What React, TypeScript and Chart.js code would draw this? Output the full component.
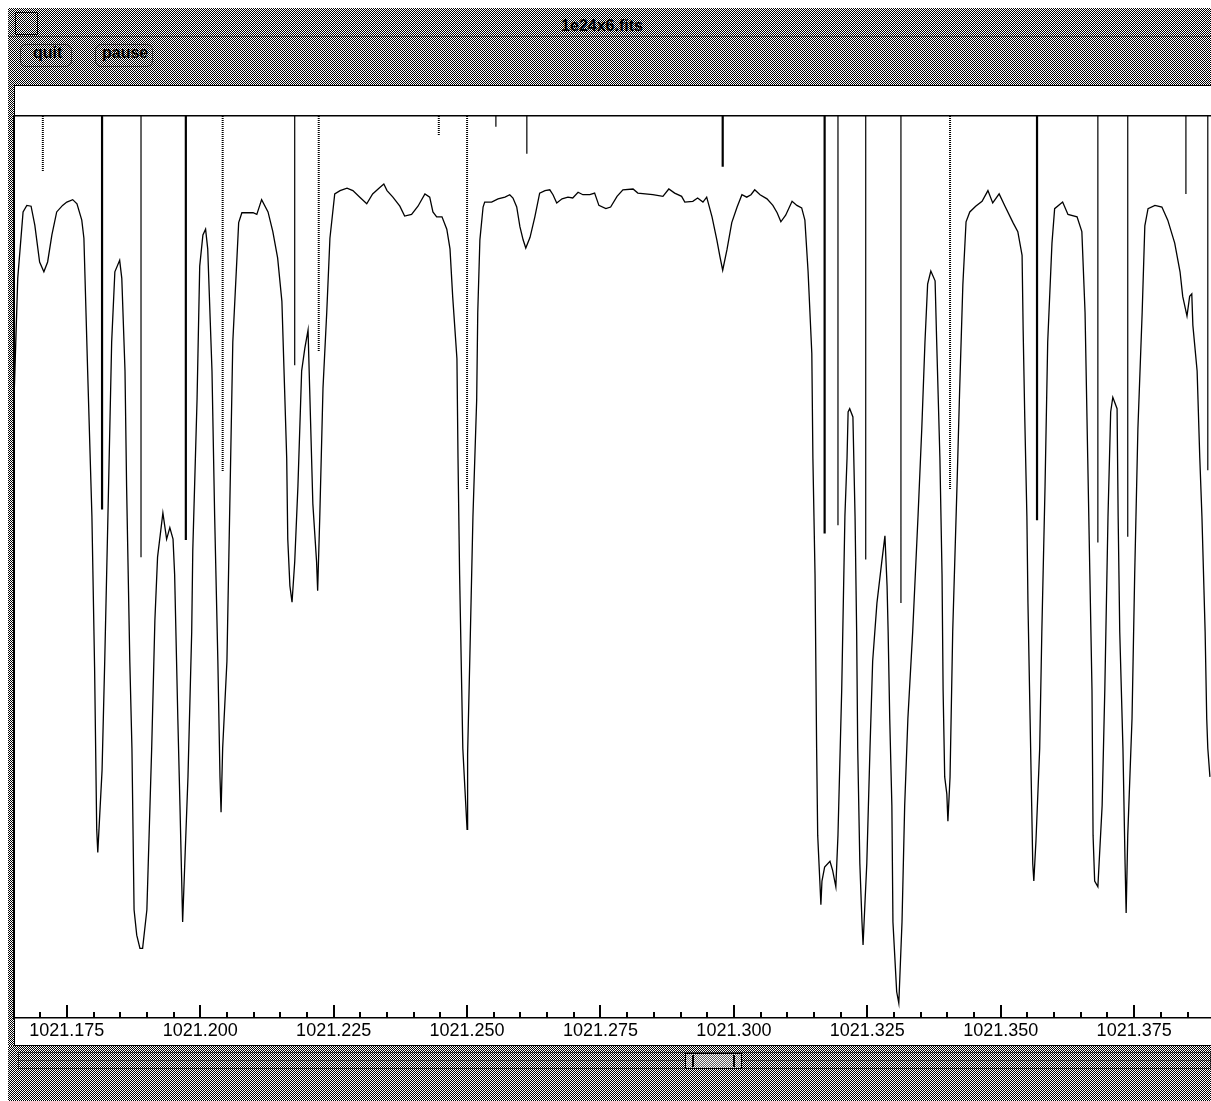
import React, { useEffect, useRef } from 'react';
import { Chart, registerables } from 'chart.js';

Chart.register(...registerables);

const windowTitle = '1e24x6.fits';
const menuItems = ['quit', 'pause'];

// Wavelength axis (same units as the tick labels)
const wavelengths = [
  1021.1651, 1021.1658, 1021.1668, 1021.1675, 1021.1683, 1021.1690, 1021.1699, 1021.1707, 1021.1714, 1021.1722,
  1021.1731, 1021.1742, 1021.1750, 1021.1761, 1021.1769, 1021.1778, 1021.1782, 1021.1789, 1021.1797, 1021.1802,
  1021.1806, 1021.1808, 1021.1816, 1021.1821, 1021.1827, 1021.1834, 1021.1840, 1021.1849, 1021.1853, 1021.1859,
  1021.1862, 1021.1868, 1021.1872, 1021.1876, 1021.1881, 1021.1887, 1021.1892, 1021.1900, 1021.1909, 1021.1915,
  1021.1920, 1021.1930, 1021.1937, 1021.1943, 1021.1949, 1021.1952, 1021.1958, 1021.1962, 1021.1965, 1021.1967,
  1021.1971, 1021.1977, 1021.1984, 1021.1986, 1021.1994, 1021.1999, 1021.2005, 1021.2010, 1021.2014, 1021.2022,
  1021.2027, 1021.2033, 1021.2037, 1021.2039, 1021.2042, 1021.2050, 1021.2055, 1021.2061, 1021.2069, 1021.2072,
  1021.2078, 1021.2087, 1021.2099, 1021.2106, 1021.2115, 1021.2127, 1021.2136, 1021.2145, 1021.2153, 1021.2158,
  1021.2162, 1021.2164, 1021.2168, 1021.2172, 1021.2177, 1021.2183, 1021.2190, 1021.2196, 1021.2202, 1021.2205,
  1021.2211, 1021.2218, 1021.2220, 1021.2224, 1021.2230, 1021.2237, 1021.2243, 1021.2252, 1021.2262, 1021.2275,
  1021.2286, 1021.2299, 1021.2312, 1021.2323, 1021.2337, 1021.2344, 1021.2350, 1021.2361, 1021.2374, 1021.2383,
  1021.2396, 1021.2408, 1021.2421, 1021.2430, 1021.2436, 1021.2443, 1021.2453, 1021.2462, 1021.2468, 1021.2473,
  1021.2481, 1021.2483, 1021.2486, 1021.2490, 1021.2492, 1021.2496, 1021.2500, 1021.2501, 1021.2505, 1021.2511,
  1021.2518, 1021.2520, 1021.2524, 1021.2530, 1021.2533, 1021.2546, 1021.2558, 1021.2571, 1021.2580, 1021.2586,
  1021.2593, 1021.2599, 1021.2605, 1021.2610, 1021.2618, 1021.2627, 1021.2636, 1021.2646, 1021.2655, 1021.2661,
  1021.2668, 1021.2678, 1021.2689, 1021.2698, 1021.2708, 1021.2717, 1021.2730, 1021.2739, 1021.2747, 1021.2760,
  1021.2769, 1021.2781, 1021.2792, 1021.2811, 1021.2820, 1021.2848, 1021.2867, 1021.2878, 1021.2889, 1021.2902,
  1021.2908, 1021.2923, 1021.2932, 1021.2942, 1021.2949, 1021.2959, 1021.2968, 1021.2974, 1021.2979, 1021.2987,
  1021.2996, 1021.3006, 1021.3015, 1021.3024, 1021.3032, 1021.3039, 1021.3049, 1021.3062, 1021.3073, 1021.3081,
  1021.3088, 1021.3097, 1021.3109, 1021.3118, 1021.3127, 1021.3133, 1021.3139, 1021.3146, 1021.3148, 1021.3152,
  1021.3155, 1021.3157, 1021.3161, 1021.3163, 1021.3165, 1021.3170, 1021.3180, 1021.3185, 1021.3191, 1021.3195,
  1021.3202, 1021.3208, 1021.3212, 1021.3214, 1021.3217, 1021.3223, 1021.3227, 1021.3230, 1021.3232, 1021.3236,
  1021.3240, 1021.3242, 1021.3245, 1021.3249, 1021.3255, 1021.3260, 1021.3268, 1021.3277, 1021.3283, 1021.3287,
  1021.3289, 1021.3292, 1021.3296, 1021.3298, 1021.3305, 1021.3309, 1021.3315, 1021.3320, 1021.3326, 1021.3335,
  1021.3345, 1021.3352, 1021.3358, 1021.3363, 1021.3369, 1021.3377, 1021.3380, 1021.3386, 1021.3390, 1021.3392,
  1021.3395, 1021.3399, 1021.3401, 1021.3405, 1021.3410, 1021.3418, 1021.3423, 1021.3429, 1021.3435, 1021.3442,
  1021.3453, 1021.3465, 1021.3476, 1021.3485, 1021.3497, 1021.3508, 1021.3523, 1021.3532, 1021.3540, 1021.3542,
  1021.3545, 1021.3549, 1021.3551, 1021.3555, 1021.3558, 1021.3560, 1021.3562, 1021.3566, 1021.3573, 1021.3577,
  1021.3583, 1021.3588, 1021.3596, 1021.3601, 1021.3616, 1021.3626, 1021.3643, 1021.3652, 1021.3658, 1021.3663,
  1021.3667, 1021.3671, 1021.3673, 1021.3676, 1021.3682, 1021.3690, 1021.3695, 1021.3701, 1021.3706, 1021.3710,
  1021.3718, 1021.3720, 1021.3723, 1021.3729, 1021.3733, 1021.3735, 1021.3738, 1021.3746, 1021.3751, 1021.3757,
  1021.3765, 1021.3770, 1021.3776, 1021.3789, 1021.3802, 1021.3813, 1021.3826, 1021.3836, 1021.3841, 1021.3849,
  1021.3854, 1021.3858, 1021.3860, 1021.3868, 1021.3873, 1021.3877, 1021.3883, 1021.3886, 1021.3888, 1021.3892,
];

// Normalised flux (continuum ~ 1)
const flux = [
  0.754, 0.902, 0.983, 0.991, 0.990, 0.967, 0.922, 0.910, 0.922, 0.955,
  0.983, 0.991, 0.995, 0.998, 0.993, 0.973, 0.951, 0.789, 0.612, 0.428,
  0.230, 0.202, 0.302, 0.435, 0.612, 0.824, 0.910, 0.924, 0.902, 0.789,
  0.648, 0.435, 0.329, 0.132, 0.101, 0.085, 0.085, 0.132, 0.329, 0.485,
  0.562, 0.616, 0.584, 0.598, 0.584, 0.541, 0.365, 0.259, 0.174, 0.117,
  0.188, 0.294, 0.471, 0.570, 0.754, 0.917, 0.955, 0.962, 0.938, 0.789,
  0.612, 0.435, 0.294, 0.251, 0.329, 0.435, 0.612, 0.824, 0.930, 0.970,
  0.982, 0.982, 0.982, 0.980, 0.998, 0.983, 0.959, 0.927, 0.874, 0.768,
  0.683, 0.584, 0.527, 0.507, 0.556, 0.648, 0.789, 0.817, 0.839, 0.768,
  0.627, 0.556, 0.521, 0.612, 0.768, 0.860, 0.951, 1.005, 1.009, 1.012,
  1.009, 1.001, 0.993, 1.005, 1.013, 1.017, 1.009, 1.001, 0.990, 0.978,
  0.980, 0.990, 1.005, 1.001, 0.983, 0.977, 0.977, 0.962, 0.938, 0.880,
  0.804, 0.683, 0.541, 0.400, 0.329, 0.279, 0.230, 0.322, 0.435, 0.612,
  0.754, 0.860, 0.949, 0.989, 0.995, 0.995, 0.999, 1.001, 1.004, 1.000,
  0.989, 0.965, 0.949, 0.939, 0.952, 0.977, 1.006, 1.009, 1.010, 1.004,
  0.994, 0.999, 1.001, 1.000, 1.007, 1.004, 1.004, 1.006, 0.991, 0.987,
  0.989, 1.002, 1.010, 1.011, 1.006, 1.004, 1.002, 1.011, 1.006, 1.002,
  0.995, 0.996, 1.000, 0.995, 1.001, 0.977, 0.949, 0.928, 0.912, 0.937,
  0.970, 0.989, 1.004, 1.001, 1.004, 1.010, 1.004, 0.999, 0.991, 0.982,
  0.971, 0.979, 0.996, 0.991, 0.988, 0.973, 0.910, 0.810, 0.683, 0.541,
  0.329, 0.223, 0.167, 0.138, 0.167, 0.184, 0.191, 0.180, 0.160, 0.223,
  0.400, 0.612, 0.683, 0.739, 0.743, 0.733, 0.612, 0.471, 0.329, 0.188,
  0.117, 0.089, 0.132, 0.188, 0.329, 0.435, 0.506, 0.556, 0.588, 0.527,
  0.471, 0.365, 0.259, 0.117, 0.032, 0.018, 0.117, 0.259, 0.365, 0.471,
  0.612, 0.718, 0.824, 0.895, 0.911, 0.899, 0.824, 0.683, 0.541, 0.400,
  0.294, 0.273, 0.240, 0.294, 0.471, 0.648, 0.766, 0.894, 0.971, 0.983,
  0.990, 0.996, 1.009, 0.994, 1.005, 0.990, 0.970, 0.959, 0.930, 0.839,
  0.733, 0.612, 0.506, 0.365, 0.259, 0.188, 0.167, 0.216, 0.329, 0.471,
  0.648, 0.824, 0.945, 0.987, 0.995, 0.980, 0.977, 0.959, 0.860, 0.683,
  0.541, 0.400, 0.223, 0.167, 0.160, 0.259, 0.400, 0.612, 0.739, 0.757,
  0.743, 0.612, 0.471, 0.329, 0.188, 0.128, 0.223, 0.365, 0.541, 0.718,
  0.860, 0.966, 0.987, 0.991, 0.989, 0.973, 0.945, 0.910, 0.880, 0.856,
  0.880, 0.883, 0.845, 0.789, 0.683, 0.612, 0.471, 0.365, 0.329, 0.294,
];

// Line-identification markers hanging from the top of the frame
const markerWavelengths = [
  1021.1705, 1021.1816, 1021.1889, 1021.1973, 1021.2042, 1021.2177, 1021.2222, 1021.2447,
  1021.2500, 1021.2554, 1021.2612, 1021.2979, 1021.3170, 1021.3195, 1021.3247, 1021.3313,
  1021.3405, 1021.3568, 1021.3682, 1021.3738, 1021.3847, 1021.3888,
];
const markerDepths = [
  1.033, 0.620, 0.562, 0.583, 0.666, 0.796, 0.813, 1.076,
  0.644, 1.087, 1.054, 1.038, 0.591, 0.601, 0.559, 0.506,
  0.644, 0.607, 0.580, 0.587, 1.005, 0.668,
];
const markerStyles = [
  'dotted', 'thick', 'thin', 'thick', 'dotted', 'thin', 'dotted', 'dotted',
  'dotted', 'thin', 'thin', 'thick', 'thick', 'thin', 'thin', 'thin',
  'dotted', 'thick', 'thin', 'thin', 'thin', 'thin',
];

const tickLabels = [
  '1021.175', '1021.200', '1021.225', '1021.250', '1021.275',
  '1021.300', '1021.325', '1021.350', '1021.375',
];
const minorStep = 0.005;
const xMin = 1021.1651;
const xMax = 1021.3894;
const yMin = 0;
const yMax = 1.1;

const dither: React.CSSProperties = {
  backgroundImage: 'repeating-conic-gradient(#000 0% 25%, #fff 0% 50%)',
  backgroundSize: '2px 2px',
};

const tickMarks = {
  id: 'tickMarks',
  afterDraw(chart: any) {
    const s = chart.scales.x;
    const ctx = chart.ctx;
    const b = chart.chartArea.bottom;
    ctx.save();
    ctx.strokeStyle = '#000';
    ctx.lineWidth = 2;
    s.ticks.forEach((t: any) => {
      const major = tickLabels.includes(Number(t.value).toFixed(3));
      const px = Math.round(s.getPixelForValue(t.value));
      ctx.beginPath();
      ctx.moveTo(px, b);
      ctx.lineTo(px, b - (major ? 13 : 6));
      ctx.stroke();
    });
    ctx.restore();
  },
};

export default function App() {
  const canvasRef = useRef<HTMLCanvasElement>(null);

  useEffect(() => {
    const canvas = canvasRef.current;
    if (!canvas) return;
    const spectrum = wavelengths.map((w, i) => ({ x: w, y: flux[i] }));
    const markerData = (style: string) => {
      const out: any[] = [];
      markerWavelengths.forEach((w, i) => {
        if (markerStyles[i] === style) {
          out.push({ x: w, y: yMax }, { x: w, y: markerDepths[i] }, { x: w, y: null });
        }
      });
      return out;
    };
    const base = { pointRadius: 0, tension: 0, fill: false, spanGaps: false, borderColor: '#000' };
    const chart = new Chart(canvas, {
      type: 'line',
      data: {
        datasets: [
          { ...base, label: 'spectrum', data: spectrum, borderWidth: 1.3 },
          { ...base, label: 'markers strong', data: markerData('thick'), borderWidth: 2.2 },
          { ...base, label: 'markers', data: markerData('thin'), borderWidth: 1.2 },
          { ...base, label: 'markers blend', data: markerData('dotted'), borderWidth: 2, borderDash: [1, 1] },
        ] as any,
      },
      options: {
        animation: false,
        responsive: false,
        devicePixelRatio: 1,
        events: [],
        layout: { padding: { left: 14, top: 116, right: 0, bottom: 55 } },
        plugins: { legend: { display: false }, tooltip: { enabled: false } },
        scales: {
          x: {
            type: 'linear',
            position: 'bottom',
            min: xMin,
            max: xMax,
            afterFit: (s: any) => { s.height = 28; },
            grid: { display: false, drawTicks: false },
            border: { display: true, color: '#000', width: 1.5 },
            ticks: {
              stepSize: minorStep,
              autoSkip: false,
              maxRotation: 0,
              minRotation: 0,
              includeBounds: false,
              padding: 2,
              color: '#000',
              font: { family: '"Liberation Sans", Arial, sans-serif', size: 18 },
              callback: (v: any) => {
                const s = Number(v).toFixed(3);
                return tickLabels.includes(s) ? s : '';
              },
            },
          },
          x2: {
            type: 'linear',
            position: 'top',
            min: xMin,
            max: xMax,
            afterFit: (s: any) => { s.height = 0; },
            grid: { display: false, drawTicks: false },
            border: { display: true, color: '#000', width: 1.5 },
            ticks: { display: false },
          },
          y: {
            type: 'linear',
            position: 'left',
            min: yMin,
            max: yMax,
            afterFit: (s: any) => { s.width = 0; },
            grid: { display: false, drawTicks: false },
            border: { display: true, color: '#000', width: 1.5 },
            ticks: { display: false },
          },
        },
      } as any,
      plugins: [tickMarks],
    });
    return () => chart.destroy();
  }, []);

  const abs = (l: number, t: number, w: number, h: number): React.CSSProperties => ({
    position: 'absolute', left: l, top: t, width: w, height: h, boxSizing: 'border-box',
  });

  return (
    <div style={{ position: 'absolute', left: 0, top: 0, width: 1211, height: 1101, overflow: 'hidden', background: '#fff' }}>
      {/* title bar */}
      <div style={{ ...abs(8, 8, 1203, 28), ...dither }} />
      <div style={{ ...abs(15, 12, 23, 23), border: '1px solid #000', ...dither }} />
      <div style={{ ...abs(8, 36, 1203, 1), background: '#333' }} />
      <div style={{ position: 'absolute', left: 520, top: 18, width: 164, textAlign: 'center', font: 'bold 16px/16px "Liberation Sans", Arial, sans-serif', color: '#000' }}>
        {windowTitle}
      </div>
      {/* menu bar */}
      <div style={{ ...abs(8, 37, 1203, 48), ...dither }} />
      <div style={{ ...abs(20, 44, 52, 23), border: '1px solid rgba(0,0,0,0.55)', borderRadius: 6 }} />
      <div style={{ ...abs(95, 44, 58, 23), border: '1px solid rgba(0,0,0,0.55)', borderRadius: 6 }} />
      <div style={{ position: 'absolute', left: 33, top: 45, font: 'bold 16px/16px "Liberation Sans", Arial, sans-serif', color: '#000' }}>{menuItems[0]}</div>
      <div style={{ position: 'absolute', left: 102, top: 45, font: 'bold 16px/16px "Liberation Sans", Arial, sans-serif', color: '#000' }}>{menuItems[1]}</div>
      {/* left strip */}
      <div style={{ ...abs(8, 85, 6, 1016), ...dither }} />
      {/* plot area */}
      <div style={{ ...abs(14, 85, 1197, 961), background: '#fff', borderTop: '1px solid #000', borderLeft: '1px solid #000', borderBottom: '1px solid #000' }} />
      {/* bottom scrollbar */}
      <div style={{ ...abs(8, 1046, 1203, 55), ...dither }} />
      <div style={{ ...abs(18, 1052, 1193, 17), border: '1px solid rgba(0,0,0,0.6)' }} />
      <div style={{ ...abs(685, 1053, 57, 16), border: '1px solid #000', background: 'rgba(255,255,255,0.35)' }} />
      <div style={{ ...abs(18, 1060, 667, 1), background: 'rgba(0,0,0,0.5)' }} />
      <div style={{ ...abs(742, 1060, 469, 1), background: 'rgba(0,0,0,0.5)' }} />
      <div style={{ ...abs(692, 1055, 2, 12), background: '#000' }} />
      <div style={{ ...abs(733, 1055, 2, 12), background: '#000' }} />
      <canvas ref={canvasRef} width={1211} height={1101} style={{ position: 'absolute', left: 0, top: 0, width: 1211, height: 1101 }} />
    </div>
  );
}
